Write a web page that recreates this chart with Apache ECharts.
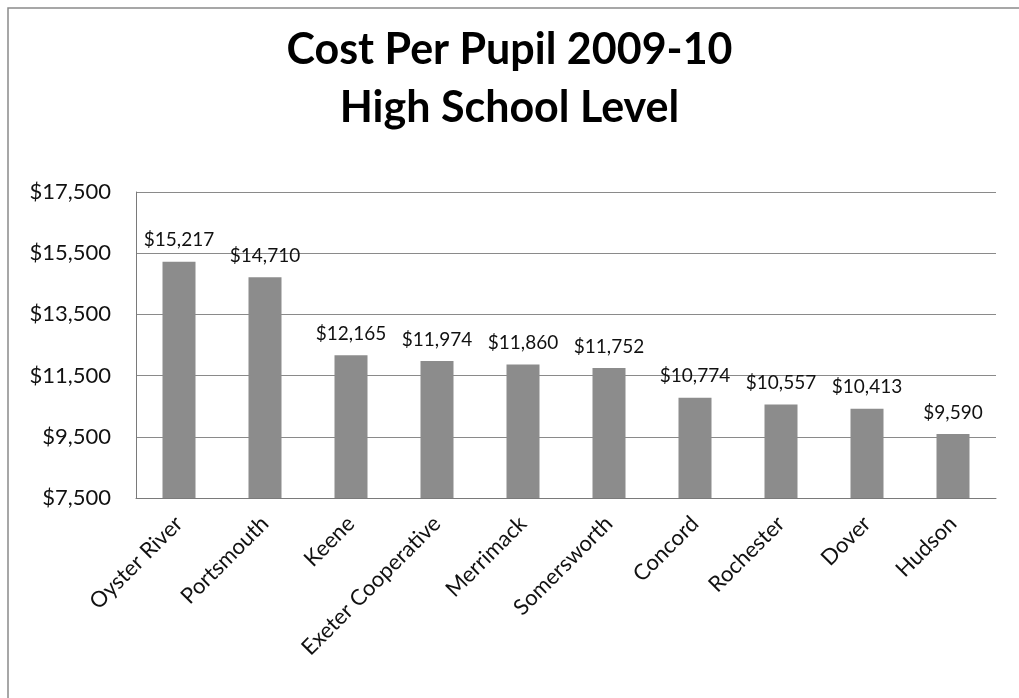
<!DOCTYPE html>
<html><head><meta charset="utf-8">
<script src="https://cdn.jsdelivr.net/npm/echarts@6/dist/echarts.min.js"></script>
<style>html,body{margin:0;padding:0;background:#fff}#c{width:1019px;height:698px}</style>
</head><body><div id="c"></div>
<script>
const categories = ["Oyster River","Portsmouth","Keene","Exeter Cooperative","Merrimack","Somersworth","Concord","Rochester","Dover","Hudson"];
const values = [15217,14710,12165,11974,11860,11752,10774,10557,10413,9590];
const yTicks = {min:7500, max:17500, interval:2000};
const titleLines = ["Cost Per Pupil 2009-10","High School Level"];

const fmt = v => "$" + v.toLocaleString("en-US");
const chart = echarts.init(document.getElementById("c"));
chart.setOption({
  animation:false,
  backgroundColor:"#fff",
  graphic:[{type:"rect",shape:{x:8,y:8,width:1030,height:720},style:{fill:"none",stroke:"#8a8a8a",lineWidth:1.5},silent:true}],
  title:{text:titleLines.join("\n"),left:"center",top:16,
    textStyle:{fontFamily:"Lato",fontWeight:"bold",fontSize:43,lineHeight:58,color:"#000"}},
  grid:{left:136,right:23,top:192,bottom:200,containLabel:false},
  xAxis:{type:"category",data:categories,
    axisLine:{show:true,lineStyle:{color:"#7a7a7a",width:1}},
    axisTick:{show:false},
    axisLabel:{rotate:45,interval:0,margin:22,fontFamily:"Lato",fontSize:22,color:"#111"}},
  yAxis:{type:"value",min:yTicks.min,max:yTicks.max,interval:yTicks.interval,
    axisLine:{show:true,lineStyle:{color:"#7a7a7a",width:1}},
    axisTick:{show:false},
    splitLine:{lineStyle:{color:"#8a8a8a",width:1}},
    axisLabel:{formatter:fmt,fontFamily:"Lato",fontSize:22,color:"#111",margin:25}},
  series:[{type:"bar",data:values,barWidth:33,
    itemStyle:{color:"#8c8c8c"},
    label:{show:true,position:"top",distance:12,formatter:p=>fmt(p.value),fontFamily:"Lato",fontSize:19,color:"#111"}}]
});
</script></body></html>
